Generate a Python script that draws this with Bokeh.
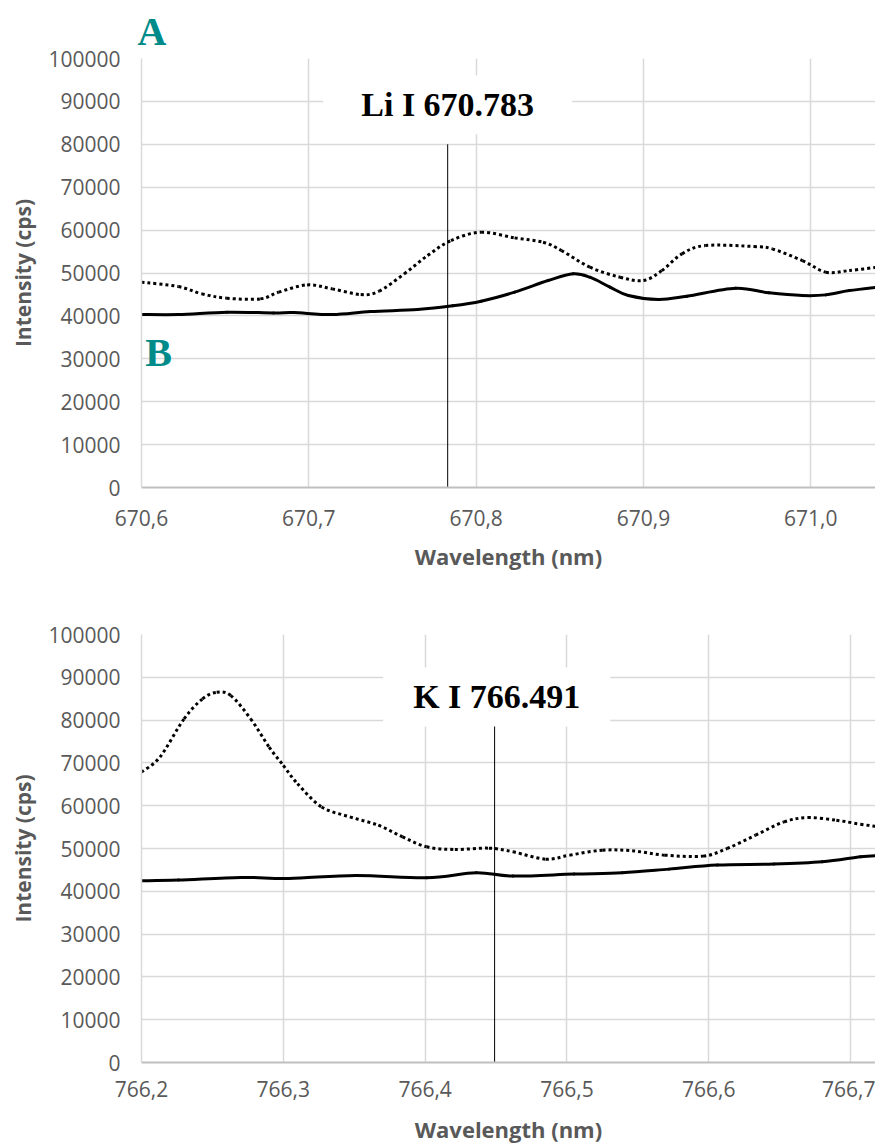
from bokeh.plotting import figure
from bokeh.layouts import column
from bokeh.models import FixedTicker, CustomJSTickFormatter, Label, Range1d
from bokeh.embed import file_html
from bokeh.resources import INLINE

# ---------------- data ----------------
y_ticks = [0, 10000, 20000, 30000, 40000, 50000, 60000, 70000, 80000, 90000, 100000]
li_x_ticks = [670.6, 670.7, 670.8, 670.9, 671.0]
k_x_ticks = [766.2, 766.3, 766.4, 766.5, 766.6, 766.7]

# Li panel, series A (dotted)
li_wl_a = [670.600, 670.622, 670.636, 670.651, 670.671, 670.682, 670.699, 670.714, 670.731,
           670.742, 670.757, 670.771, 670.785, 670.803, 670.823, 670.840, 670.851, 670.868,
           670.886, 670.900, 670.911, 670.923, 670.937, 670.966, 670.977, 670.995, 671.009,
           671.023, 671.043]
li_int_a = [47860, 46850, 45140, 44130, 43970, 45530, 47230, 46300, 44980,
            45760, 49800, 54070, 57570, 59510, 58190, 57180, 55240, 51350,
            49020, 48240, 50570, 54460, 56400, 56170, 55620, 52900, 50190,
            50570, 51500]
# Li panel, series B (solid)
li_wl_b = [670.600, 670.622, 670.651, 670.679, 670.691, 670.714, 670.737, 670.765, 670.786,
           670.803, 670.823, 670.843, 670.858, 670.868, 670.880, 670.891, 670.909, 670.926,
           670.955, 670.975, 670.995, 671.009, 671.023, 671.043]
li_int_b = [40320, 40300, 40860, 40700, 40780, 40300, 41000, 41480, 42340,
            43430, 45530, 48240, 49800, 49020, 46700, 44750, 43820, 44600,
            46460, 45380, 44750, 44900, 45900, 46850]

# K panel, series A (dotted)
k_wl_a = [766.200, 766.213, 766.230, 766.243, 766.253, 766.263, 766.277, 766.290, 766.300,
          766.310, 766.327, 766.347, 766.367, 766.384, 766.401, 766.421, 766.445, 766.462,
          766.485, 766.502, 766.525, 766.546, 766.569, 766.596, 766.613, 766.633, 766.653,
          766.670, 766.690, 766.707, 766.720]
k_int_a = [67860, 71360, 80290, 84950, 86500, 85730, 80290, 73690, 69420,
           65150, 59710, 57380, 55440, 52720, 50390, 49770, 50080, 49220,
           47510, 48450, 49610, 49460, 48450, 48220, 50000, 53110, 56210,
           57220, 56600, 55670, 55050]
# K panel, series B (solid)
k_wl_b = [766.200, 766.226, 766.270, 766.304, 766.351, 766.401, 766.436, 766.462, 766.505,
          766.539, 766.572, 766.606, 766.646, 766.680, 766.707, 766.720]
k_int_b = [42470, 42620, 43240, 43010, 43710, 43170, 44330, 43550, 44020,
           44330, 45180, 46120, 46350, 46890, 48060, 48370]

li_line_x = 670.783
li_line_top = 80000
li_label = "Li I 670.783"
k_line_x = 766.449
k_line_top = 79000
k_label = "K I 766.491"

GRAY = "#595959"
GRID = "#D9D9D9"
TEAL = "#008B8B"


def make_panel(x_range, x_ticks, height, border_top, border_bottom, tick_standoff, title_standoff):
    p = figure(width=875, height=height, output_backend="svg", toolbar_location=None,
               x_range=x_range, y_range=Range1d(0, 100000),
               min_border_left=141, min_border_right=0,
               min_border_top=border_top, min_border_bottom=border_bottom)
    p.outline_line_color = None
    p.background_fill_color = "white"
    p.border_fill_color = "white"
    p.xaxis.ticker = FixedTicker(ticks=x_ticks)
    p.xaxis.formatter = CustomJSTickFormatter(code="return tick.toFixed(1).replace('.', ',');")
    p.yaxis.ticker = FixedTicker(ticks=y_ticks)
    p.yaxis.formatter = CustomJSTickFormatter(code="return tick.toFixed(0);")
    for ax in (p.xaxis, p.yaxis):
        ax.major_tick_line_color = None
        ax.minor_tick_line_color = None
        ax.major_tick_out = 0
        ax.major_tick_in = 0
        ax.major_label_text_font = "Open Sans"
        ax.major_label_text_font_size = "21px"
        ax.major_label_text_color = GRAY
        ax.axis_label_text_font = "Open Sans"
        ax.axis_label_text_font_style = "bold"
        ax.axis_label_text_color = GRAY
    p.xaxis.axis_label_text_font_size = "22px"
    p.yaxis.axis_label_text_font_size = "21px"
    p.xaxis.axis_label = "Wavelength (nm)"
    p.yaxis.axis_label = "Intensity (cps)"
    p.xaxis.axis_line_color = "#BFBFBF"
    p.xaxis.axis_line_width = 2
    p.yaxis.axis_line_color = GRID
    p.yaxis.axis_line_width = 1.5
    p.xaxis.major_label_standoff = tick_standoff
    p.xaxis.axis_label_standoff = title_standoff
    p.yaxis.major_label_standoff = 21
    p.yaxis.axis_label_standoff = 8
    p.xgrid.grid_line_color = GRID
    p.xgrid.grid_line_width = 1.5
    p.ygrid.grid_line_color = GRID
    p.ygrid.grid_line_width = 1.5
    return p


def smooth_line(p, xs, ys, **kw):
    # Excel-style smoothed line: cubic Bezier segments through the data points
    n = len(xs)
    cols = dict(x0=[], y0=[], x1=[], y1=[], cx0=[], cy0=[], cx1=[], cy1=[])
    for i in range(n - 1):
        xa, ya = (xs[i - 1], ys[i - 1]) if i > 0 else (xs[i], ys[i])
        xd, yd = (xs[i + 2], ys[i + 2]) if i + 2 < n else (xs[i + 1], ys[i + 1])
        cols["x0"].append(xs[i]); cols["y0"].append(ys[i])
        cols["x1"].append(xs[i + 1]); cols["y1"].append(ys[i + 1])
        cols["cx0"].append(xs[i] + (xs[i + 1] - xa) / 6.0)
        cols["cy0"].append(ys[i] + (ys[i + 1] - ya) / 6.0)
        cols["cx1"].append(xs[i + 1] - (xd - xs[i]) / 6.0)
        cols["cy1"].append(ys[i + 1] - (yd - ys[i]) / 6.0)
    p.bezier(**cols, **kw)


def add_label(p, x, y, text, pad_h):
    kw = dict(x=x, y=y, text=text, text_font="Liberation Serif", text_font_style="bold",
              text_font_size="34px", text_color="black", text_align="center",
              text_baseline="middle", background_fill_color="white",
              border_line_color=None)
    try:
        lab = Label(padding=dict(left=pad_h, right=pad_h, top=11, bottom=11), **kw)
    except Exception:
        lab = Label(padding=(pad_h, 11), **kw)
    p.add_layout(lab)


# ---------------- top panel (Li) ----------------
p1 = make_panel(Range1d(670.6, 671.0387), li_x_ticks, 590, 58, 103, 22, 12)
p1.title.text = "A"
p1.title.text_font = "Liberation Serif"
p1.title.text_font_size = "40px"
p1.title.text_font_style = "bold"
p1.title.text_color = TEAL
p1.title.align = "left"
p1.title.offset = -4
p1.title.standoff = 9
smooth_line(p1, li_wl_b, li_int_b, line_color="black", line_width=3, line_cap="round")
smooth_line(p1, li_wl_a, li_int_a, line_color="black", line_width=3, line_dash="3 3")
p1.segment(x0=[li_line_x], y0=[0], x1=[li_line_x], y1=[li_line_top], line_color="black", line_width=1)
add_label(p1, li_line_x, 89200, li_label, 38)
p1.add_layout(Label(x=670.6102, y=31400, text="B", text_font="Liberation Serif",
                    text_font_style="bold", text_font_size="40px", text_color=TEAL,
                    text_align="center", text_baseline="middle"))

# ---------------- bottom panel (K) ----------------
p2 = make_panel(Range1d(766.2, 766.7176), k_x_ticks, 556, 44, 82, 18, 14)
smooth_line(p2, k_wl_b, k_int_b, line_color="black", line_width=3, line_cap="round")
smooth_line(p2, k_wl_a, k_int_a, line_color="black", line_width=3, line_dash="3 3")
p2.segment(x0=[k_line_x], y0=[0], x1=[k_line_x], y1=[k_line_top], line_color="black", line_width=1)
add_label(p2, 766.4505, 85400, k_label, 30)

layout = column(p1, p2, spacing=0)
open("out.html", "w").write(file_html(layout, INLINE))
